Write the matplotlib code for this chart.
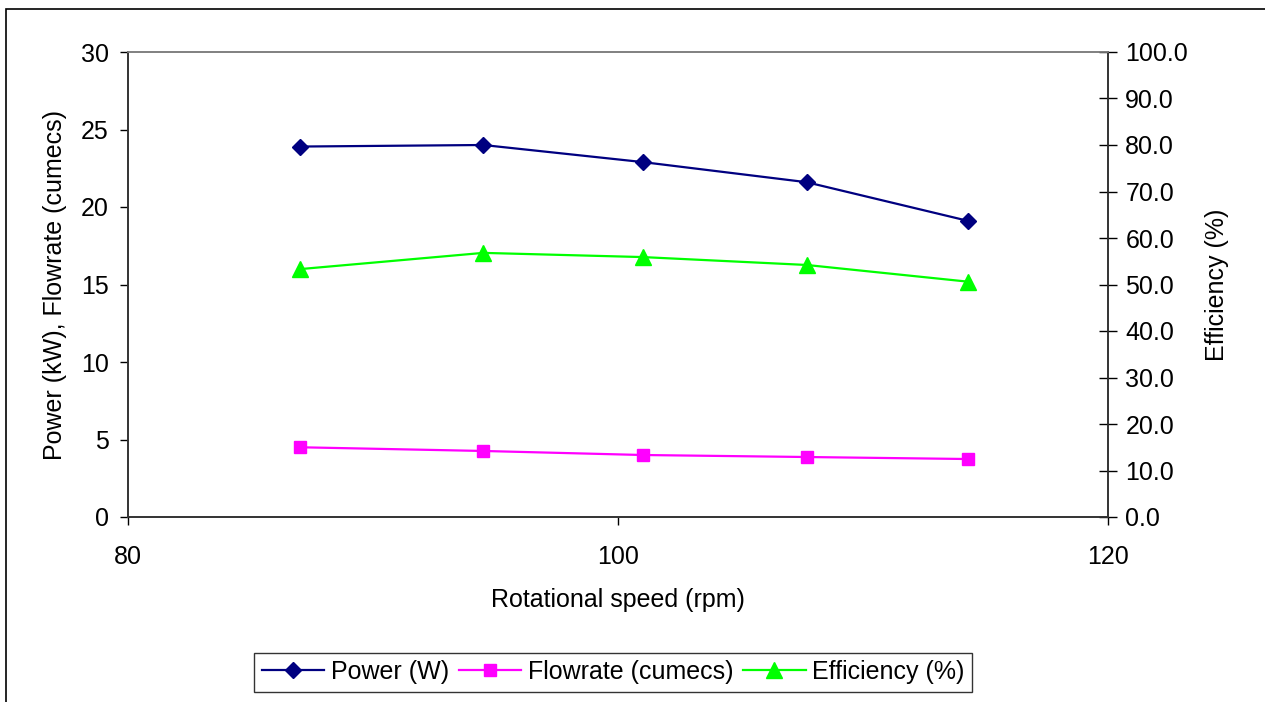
import matplotlib.pyplot as plt
from matplotlib.patches import Rectangle
from matplotlib.ticker import FormatStrFormatter

plt.rcParams['font.family'] = ['Liberation Sans', 'DejaVu Sans']

# data
speed = [87.0, 94.5, 101.0, 107.7, 114.3]
power = [23.9, 24.0, 22.9, 21.6, 19.1]
flowrate = [4.5, 4.26, 4.0, 3.87, 3.74]
efficiency = [53.3, 56.8, 55.9, 54.2, 50.6]

fig = plt.figure(figsize=(12.65, 7.02), dpi=100)

# outer chart border
fig.patches.append(Rectangle((6 / 1265, -0.05), 1.1, (702 - 9) / 702 + 0.05,
                             transform=fig.transFigure, fill=False,
                             edgecolor='black', linewidth=1.2))

ax = fig.add_axes([128 / 1265, (702 - 517) / 702, 980 / 1265, 465 / 702])
ax2 = ax.twinx()

l1, = ax.plot(speed, power, color='#000080', marker='D', markersize=8,
              linewidth=1.6, label='Power (W)')
l2, = ax.plot(speed, flowrate, color='#FF00FF', marker='s', markersize=9,
              linewidth=1.6, label='Flowrate (cumecs)')
l3, = ax2.plot(speed, efficiency, color='#00FF00', marker='^', markersize=11,
               linewidth=1.6, label='Efficiency (%)')

ax.set_xlim(80, 120)
ax.set_ylim(0, 30)
ax2.set_ylim(0, 100)
ax.set_xticks([80, 100, 120])
ax.set_yticks(range(0, 31, 5))
ax2.set_yticks(range(0, 101, 10))
ax2.yaxis.set_major_formatter(FormatStrFormatter('%.1f'))

ax.tick_params(axis='y', labelsize=18, direction='out', length=6, width=1, pad=8)
ax.tick_params(axis='x', labelsize=18, direction='out', length=6, width=1, pad=14)
ax2.tick_params(axis='y', labelsize=18, direction='inout', length=13, width=1, pad=6)

for a in (ax, ax2):
    a.spines['top'].set_color('#808080')
    a.spines['left'].set_color('#333333')
    a.spines['bottom'].set_color('#333333')
    a.spines['right'].set_color('#333333')
    for s in a.spines.values():
        s.set_linewidth(1.2)

ax.set_xlabel('Rotational speed (rpm)', fontsize=18, labelpad=14)
ax.set_ylabel('Power (kW), Flowrate (cumecs)', fontsize=18, labelpad=10)
ax2.set_ylabel('Efficiency (%)', fontsize=18, labelpad=12)

leg = fig.legend(handles=[l1, l2, l3], loc='center', ncol=3,
                 bbox_to_anchor=(613 / 1265, 1 - 672 / 702), fontsize=18,
                 frameon=True, fancybox=False, handlelength=2.5,
                 columnspacing=0.4, handletextpad=0.25, borderpad=0.3)
leg.get_frame().set_edgecolor('black')
leg.get_frame().set_linewidth(1.0)

fig.savefig('out.png', dpi=100)
